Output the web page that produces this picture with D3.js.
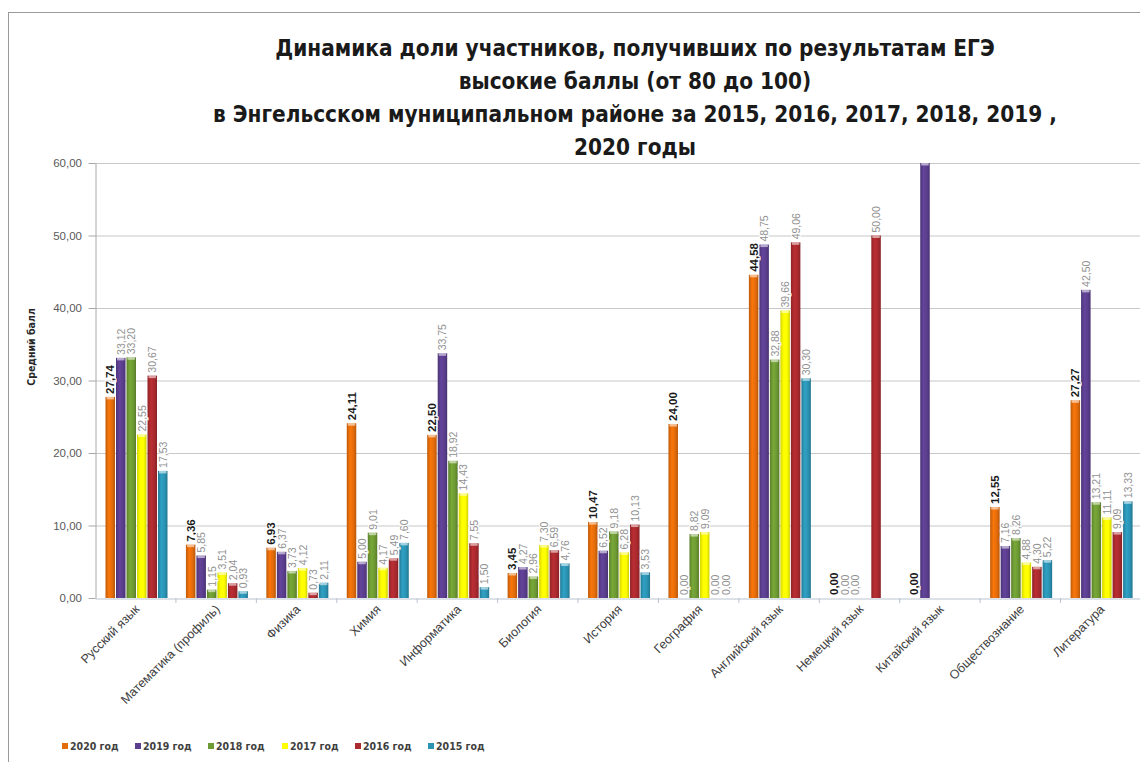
<!DOCTYPE html>
<html><head><meta charset="utf-8">
<script src="https://cdn.jsdelivr.net/npm/d3@7"></script>
<style>
html,body{margin:0;padding:0;background:#fff;}
svg{display:block;}
</style></head>
<body>
<svg id="chart" width="1140" height="762"></svg>
<script>
const categories = ["Русский язык","Математика (профиль)","Физика","Химия","Информатика","Биология","История","География","Английский язык","Немецкий язык","Китайский язык","Обществознание","Литература"];
const seriesNames = ["2020 год","2019 год","2018 год","2017 год","2016 год","2015 год"];
const v2020 = [27.74, 7.36, 6.93, 24.11, 22.50, 3.45, 10.47, 24.00, 44.58, 0.00, 0.00, 12.55, 27.27];
const v2019 = [33.12, 5.85, 6.37, 5.00, 33.75, 4.27, 6.52, 0.00, 48.75, 0.00, 100.00, 7.16, 42.50];
const v2018 = [33.20, 1.15, 3.73, 9.01, 18.92, 2.96, 9.18, 8.82, 32.88, 0.00, null, 8.26, 13.21];
const v2017 = [22.55, 3.51, 4.12, 4.17, 14.43, 7.30, 6.28, 9.09, 39.66, null, null, 4.88, 11.11];
const v2016 = [30.67, 2.04, 0.73, 5.49, 7.55, 6.59, 10.13, 0.00, 49.06, 50.00, null, 4.30, 9.09];
const v2015 = [17.53, 0.93, 2.11, 7.60, 1.50, 4.76, 3.53, 0.00, 30.30, null, null, 5.22, 13.33];
const yTicks = [0, 10, 20, 30, 40, 50, 60];
const titleLines = ["Динамика доли участников, получивших по результатам ЕГЭ","высокие баллы (от 80 до 100)","в Энгельсском муниципальном районе за 2015, 2016, 2017, 2018, 2019 ,","2020 годы"];
const yTitle = "Средний балл";
const colors = ["#E46C0A","#5B3E8E","#6E9A33","#FFFF00","#AA2A2F","#2B93B3"];

(function(){
const allSeries = [v2020, v2019, v2018, v2017, v2016, v2015];
const svg = d3.select("#chart");
const fmt = v => d3.format(".2f")(v).replace(".", ",");
const condensed = "'DejaVu Sans Condensed', 'Liberation Sans Narrow', 'Open Sans', sans-serif";

// frame
svg.append("rect").attr("x",8.5).attr("y",12.5).attr("width",1160).attr("height",800)
  .attr("fill","#fff").attr("stroke","#9a9a9a").attr("stroke-width",1);

// gradients
const defs = svg.append("defs");
colors.forEach((c,i)=>{
  const g = defs.append("linearGradient").attr("id","g"+i).attr("x1","0").attr("x2","1").attr("y1","0").attr("y2","0");
  const base = d3.color(c);
  g.append("stop").attr("offset","0%").attr("stop-color", base.darker(0.5));
  g.append("stop").attr("offset","35%").attr("stop-color", base.brighter(0.25));
  g.append("stop").attr("offset","70%").attr("stop-color", base);
  g.append("stop").attr("offset","100%").attr("stop-color", base.darker(0.6));
});

const pL = 95, pR = 1140.5, pT = 163, pB = 598;
const x0 = d3.scaleBand().domain(categories).range([pL, pR]).paddingInner(0).paddingOuter(0);
const x1 = d3.scaleBand().domain(seriesNames).range([10, 73]).padding(0);
const y = d3.scaleLinear().domain([0, 60]).range([pB, pT]);

defs.append("clipPath").attr("id","plotclip").append("rect")
  .attr("x", pL).attr("y", pT).attr("width", pR-pL).attr("height", pB-pT);

// gridlines
svg.append("g").selectAll("line").data(yTicks.filter(t=>t>0)).join("line")
  .attr("x1", pL).attr("x2", pR).attr("y1", d=>y(d)+0.5).attr("y2", d=>y(d)+0.5)
  .attr("stroke","#c8c8c8").attr("stroke-width",1.2);

// y axis
const yAxis = d3.axisLeft(y).tickValues(yTicks).tickFormat("").tickSize(7).tickSizeOuter(0);
const gy = svg.append("g").attr("transform", `translate(${pL+0.5},0)`).call(yAxis);
gy.select(".domain").attr("stroke","#a8a8a8");
gy.selectAll(".tick line").attr("stroke","#a8a8a8");
gy.selectAll(".tick text").remove();
svg.append("g").selectAll("text").data(yTicks).join("text")
  .attr("x", pL-13).attr("y", d=>y(d)+4)
  .attr("text-anchor","end")
  .attr("font-family","'Liberation Sans', Arial, sans-serif").attr("font-size",11.5)
  .attr("fill","#595959").text(d=>fmt(d));

// x axis
const xAxis = d3.axisBottom(x0).tickValues([]).tickSizeOuter(0);
const gx = svg.append("g").attr("transform", `translate(0,${pB+0.5})`).call(xAxis);
gx.select(".domain").attr("stroke","#b8c4d0");
svg.append("g").selectAll("line").data(categories.slice(1)).join("line")
  .attr("x1", d=>x0(d)+0.5).attr("x2", d=>x0(d)+0.5).attr("y1", pB).attr("y2", pB+5)
  .attr("stroke","#b8c4d0");

// category labels
svg.append("g").selectAll("text").data(categories).join("text")
  .attr("transform", d=>`translate(${x0(d)+x0.bandwidth()/2+5},${pB+12}) rotate(-45)`)
  .attr("text-anchor","end")
  .attr("font-family","'Liberation Sans', Arial, sans-serif").attr("font-size",12.5)
  .attr("fill","#404040").text(d=>d);

// bars
const rows = [];
categories.forEach((c,ci)=>{
  allSeries.forEach((s,si)=>{
    if (s[ci] !== null) rows.push({cat:c, ser:seriesNames[si], si, v:s[ci]});
  });
});
const barG = svg.append("g").attr("clip-path","url(#plotclip)");
barG.selectAll("rect.bar").data(rows.filter(d=>d.v>0)).join("rect").attr("class","bar")
  .attr("x", d=>x0(d.cat)+x1(d.ser)+0.5).attr("width", x1.bandwidth()-1)
  .attr("y", d=>y(Math.min(d.v,60))).attr("height", d=>pB-y(Math.min(d.v,60)))
  .attr("fill", d=>`url(#g${d.si})`);
barG.selectAll("rect.cap").data(rows.filter(d=>d.v>0.5)).join("rect").attr("class","cap")
  .attr("x", d=>x0(d.cat)+x1(d.ser)+1.5).attr("width", x1.bandwidth()-3)
  .attr("y", d=>y(Math.min(d.v,60))).attr("height", 2.5)
  .attr("fill", "#fff").attr("opacity",0.55);

// value labels
svg.append("g").selectAll("text").data(rows.filter(d=>d.v<=60)).join("text")
  .attr("transform", d=>`translate(${x0(d.cat)+x1(d.ser)+x1.bandwidth()/2+4},${y(d.v)-3}) rotate(-90)`)
  .attr("text-anchor","start")
  .attr("font-family","'Liberation Sans', Arial, sans-serif")
  .attr("font-size", d=>d.si===0?11.5:10.5)
  .attr("font-weight", d=>d.si===0?"bold":"normal")
  .attr("fill", d=>d.si===0?"#1a1a1a":"#909090")
  .attr("stroke","#fff").attr("stroke-width",2).attr("paint-order","stroke")
  .text(d=>fmt(d.v));

// y title
svg.append("text").attr("transform","translate(35,347) rotate(-90)").attr("text-anchor","middle")
  .attr("font-family",condensed).attr("font-size",10.5)
  .attr("font-weight","bold").attr("fill","#262626").text(yTitle);

// title
const tl = svg.append("g").selectAll("text").data(titleLines).join("text")
  .attr("x", 635).attr("y", (d,i)=>56 + i*33)
  .attr("text-anchor","middle")
  .attr("font-family",condensed)
  .attr("font-weight","bold").attr("font-size",24).attr("fill","#1a1a1a")
  .text(d=>d);
const w0 = tl.nodes()[0].getComputedTextLength();
tl.attr("font-size", 24*720/w0);

// legend
const lg = svg.append("g");
const legX = [62, 135, 208, 282, 355, 428];
seriesNames.forEach((n,i)=>{
  lg.append("rect").attr("x", legX[i]).attr("y", 743).attr("width",6).attr("height",6).attr("fill",colors[i]);
  lg.append("text").attr("x", legX[i]+8).attr("y", 750)
    .attr("font-family",condensed).attr("font-size",10.5)
    .attr("font-weight","bold").attr("fill","#404040").text(n);
});
})();
</script>
</body></html>
